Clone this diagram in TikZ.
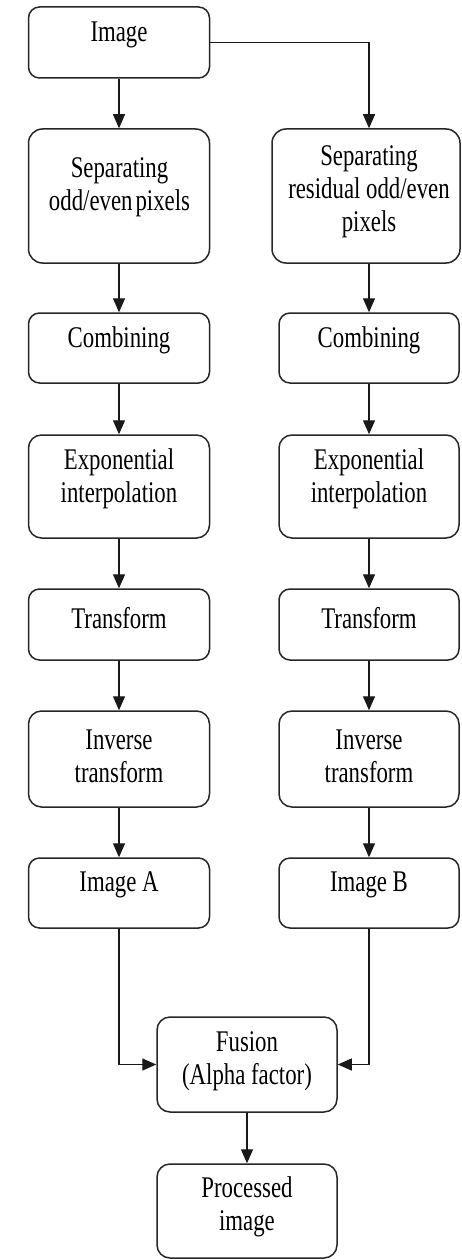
\documentclass[tikz,border=0pt]{standalone}
\usepackage{fontspec}
\setmainfont{Liberation Serif}[FakeStretch=0.76]
\usetikzlibrary{arrows.meta}
\begin{document}
\begin{tikzpicture}[x=1pt,y=-1pt,
  box/.style={draw=black!85, line width=1.5pt, rounded corners=11pt, inner sep=0pt},
  txt/.style={align=center, inner sep=0pt, font=\fontsize{30}{33}\selectfont},
  arr/.style={draw=black!90, line width=1.4pt, -{Triangle[length=14pt,width=12pt]}}]
\useasboundingbox (0,0) rectangle (461,1260);
% left column
\node[box, minimum width=181pt, minimum height=71pt]  (img)  at (119,42.5) {};
\node[box, rounded corners=14pt, minimum width=181pt, minimum height=134pt] (sepL) at (119,196) {};
\node[box, minimum width=181pt, minimum height=70pt]  (combL) at (119,348) {};
\node[box, rounded corners=13pt, minimum width=181pt, minimum height=103pt] (expL) at (119,486.5) {};
\node[box, minimum width=181pt, minimum height=71pt]  (tranL) at (119,624.5) {};
\node[box, rounded corners=13pt, minimum width=181pt, minimum height=96pt]  (invL) at (119,759) {};
\node[box, minimum width=181pt, minimum height=70pt]  (imgA) at (119,893) {};
% right column
\node[box, rounded corners=14pt, minimum width=188pt, minimum height=134pt] (sepR) at (366,196) {};
\node[box, minimum width=180pt, minimum height=70pt]  (combR) at (369,348) {};
\node[box, rounded corners=13pt, minimum width=180pt, minimum height=103pt] (expR) at (369,486.5) {};
\node[box, minimum width=180pt, minimum height=71pt]  (tranR) at (369,624.5) {};
\node[box, rounded corners=13pt, minimum width=180pt, minimum height=96pt]  (invR) at (369,759) {};
\node[box, minimum width=180pt, minimum height=70pt]  (imgB) at (369,893) {};
% bottom
\node[box, rounded corners=13pt, minimum width=180pt, minimum height=95pt] (fus) at (247,1064.5) {};
\node[box, rounded corners=13pt, minimum width=180pt, minimum height=94pt] (proc) at (247,1211) {};
% texts
\node[txt] (t-img)   at (119,34.5) {Image};
\node[txt] (t-sepL)  at (119.5,187.5) {Separating\\odd/even\hspace{0.1em}pixels};
\node[txt] (t-sepR)  at (369,191.5) {Separating\\residual odd/even\\pixels};
\node[txt] (t-combL) at (119,340) {Combining};
\node[txt] (t-combR) at (369,340) {Combining};
\node[txt] (t-expL)  at (119,479) {Exponential\\interpolation};
\node[txt] (t-expR)  at (369,479) {Exponential\\interpolation};
\node[txt] (t-tranL) at (119,618) {Transform};
\node[txt] (t-tranR) at (369,618) {Transform};
\node[txt] (t-invL)  at (119,756) {Inverse\\transform};
\node[txt] (t-invR)  at (369,756) {Inverse\\transform};
\node[txt] (t-imgA)  at (119,885) {Image A};
\node[txt] (t-imgB)  at (369,885) {Image B};
\node[txt] (t-fus)   at (247,1061.5) {Fusion\\(Alpha factor)};
\node[txt] (t-proc)  at (247,1207) {Processed\\image};
% connectors
\draw[arr] (img.south) -- (sepL.north);
\draw[arr] (img.east) -| (sepR.north -| combR.north);
\draw[arr] (sepL.south) -- (combL.north);
\draw[arr] (sepR.south -| combR.north) -- (combR.north);
\draw[arr] (combL.south) -- (expL.north);
\draw[arr] (combR.south) -- (expR.north);
\draw[arr] (expL.south) -- (tranL.north);
\draw[arr] (expR.south) -- (tranR.north);
\draw[arr] (tranL.south) -- (invL.north);
\draw[arr] (tranR.south) -- (invR.north);
\draw[arr] (invL.south) -- (imgA.north);
\draw[arr] (invR.south) -- (imgB.north);
\draw[arr] (imgA.south) |- (fus.west);
\draw[arr] (imgB.south) |- (fus.east);
\draw[arr] (fus.south) -- (proc.north);
\end{tikzpicture}
\end{document}
